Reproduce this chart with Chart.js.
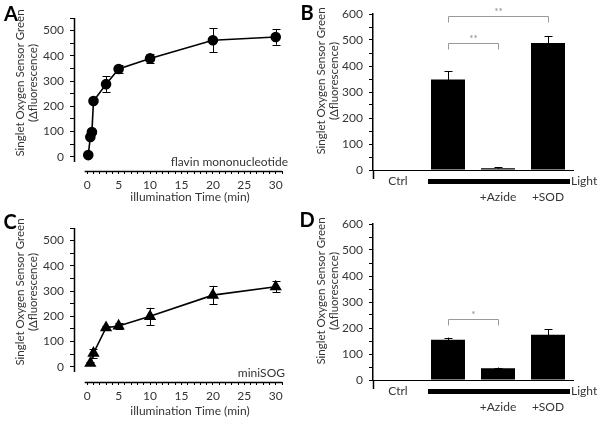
<!DOCTYPE html>
<html>
<head>
<meta charset="utf-8">
<script src="https://cdn.jsdelivr.net/npm/chart.js@4"></script>
<style>
  body { margin: 0; background: #fff; }
  #wrap { position: relative; width: 604px; height: 424px; background: #fff; }
  canvas { position: absolute; }
</style>
</head>
<body>
<div id="wrap">
  <canvas id="chartA" width="300" height="210" style="left:0;top:0"></canvas>
  <canvas id="chartB" width="304" height="210" style="left:300px;top:0"></canvas>
  <canvas id="chartC" width="300" height="214" style="left:0;top:210px"></canvas>
  <canvas id="chartD" width="304" height="214" style="left:300px;top:210px"></canvas>
</div>
<script>
// Time courses (illumination time in minutes)
const fmnTimes = [0.17, 0.5, 0.75, 1, 3, 5, 10, 20, 30];
const fmnSignal = [7, 79, 98, 221, 288, 348, 390, 462, 475];
const fmnError = [5, 8, 8, 8, 31, 17, 18, 48, 31];

const sogTimes = [0.5, 1, 3, 5, 10, 20, 30];
const sogSignal = [14, 54, 155, 162, 200, 284, 317];
const sogError = [6, 18, 8, 12, 34, 37, 22];

// Bar panels: Ctrl, Light, Light+Azide, Light+SOD
const barLabels = [['Ctrl'], [''], ['', '+Azide'], ['', '+SOD']];
const fmnBars = [0, 348, 7, 488];
const fmnBarError = [0, 32, 3, 27];
const sogBars = [0, 155, 45, 174];
const sogBarError = [0, 8, 3, 21];

// significance brackets [fromIndex, toIndex, level, stars]
const fmnBrackets = [[1, 3, 593, '**'], [1, 2, 488, '**']];
const sogBrackets = [[1, 2, 233, '*']];

// tick labels
const timeTickLabels = [0, 5, 10, 15, 20, 25, 30];
const lineYLabels = [0, 100, 200, 300, 400, 500];
const barYLabels = [0, 100, 200, 300, 400, 500, 600];

const FONT = 'Lato, "Open Sans", sans-serif';
const TXT = '#353535';
Chart.defaults.font.family = FONT;
Chart.defaults.color = TXT;

// tick marks every `step` between two values (labels come from the arrays above)
function tickMarks(from, to, step) {
  const out = [];
  for (let v = from; v <= to; v += step) out.push({value: v});
  return out;
}

// draws the error bars from a named error array
const errorBars = {
  id: 'errorBars',
  afterDatasetsDraw(chart, args, opts) {
    if (!opts.errors) return;
    const ctx = chart.ctx;
    const ys = chart.scales.y;
    const meta = chart.getDatasetMeta(0);
    const vals = chart.data.datasets[0].data;
    ctx.save();
    ctx.strokeStyle = '#000';
    ctx.lineWidth = 1;
    meta.data.forEach((el, i) => {
      const e = opts.errors[i];
      if (!e) return;
      const v = typeof vals[i] === 'object' ? vals[i].y : vals[i];
      const top = ys.getPixelForValue(v + e);
      const bot = ys.getPixelForValue(v - e);
      const x = Math.round(el.x) + 0.5;
      ctx.beginPath();
      ctx.moveTo(x, top); ctx.lineTo(x, bot);
      ctx.moveTo(x - opts.cap, Math.round(top) + 0.5); ctx.lineTo(x + opts.cap, Math.round(top) + 0.5);
      if (opts.lower) {
        ctx.moveTo(x - opts.cap, Math.round(bot) + 0.5); ctx.lineTo(x + opts.cap, Math.round(bot) + 0.5);
      }
      ctx.stroke();
    });
    ctx.restore();
  }
};

// detached axis lines for the time course panels
const splitAxes = {
  id: 'splitAxes',
  beforeDatasetsDraw(chart, args, opts) {
    if (opts.yFrom === undefined) return;
    const {x, y} = chart.scales;
    const ca = chart.chartArea;
    const ctx = chart.ctx;
    ctx.save();
    ctx.strokeStyle = '#000';
    ctx.lineWidth = 1.5;
    ctx.beginPath();
    ctx.moveTo(Math.round(ca.left) + 0.5, y.getPixelForValue(opts.yFrom));
    ctx.lineTo(Math.round(ca.left) + 0.5, y.getPixelForValue(opts.yTo));
    ctx.moveTo(x.getPixelForValue(opts.xFrom), Math.round(ca.bottom) + 0.5);
    ctx.lineTo(x.getPixelForValue(opts.xTo), Math.round(ca.bottom) + 0.5);
    ctx.stroke();
    ctx.restore();
  }
};

// light bar, y axis stub below zero and significance brackets for the bar panels
const treatmentMarks = {
  id: 'treatmentMarks',
  afterDatasetsDraw(chart, args, opts) {
    if (!opts.brackets) return;
    const {x, y} = chart.scales;
    const ca = chart.chartArea;
    const ctx = chart.ctx;
    ctx.save();
    ctx.strokeStyle = '#000';
    ctx.lineWidth = 1.5;
    ctx.beginPath();
    ctx.moveTo(Math.round(ca.left) + 0.5, ca.bottom);
    ctx.lineTo(Math.round(ca.left) + 0.5, ca.bottom + 9);
    ctx.stroke();

    ctx.strokeStyle = '#9a9a9a';
    ctx.fillStyle = '#8a8a8a';
    ctx.lineWidth = 1;
    ctx.font = '10px ' + FONT;
    ctx.textAlign = 'center';
    ctx.textBaseline = 'alphabetic';
    opts.brackets.forEach(b => {
      const x1 = Math.round(x.getPixelForValue(b[0])) + 0.5;
      const x2 = Math.round(x.getPixelForValue(b[1])) + 0.5;
      const yy = Math.round(y.getPixelForValue(b[2])) + 0.5;
      ctx.beginPath();
      ctx.moveTo(x1, yy + 6); ctx.lineTo(x1, yy); ctx.lineTo(x2, yy); ctx.lineTo(x2, yy + 6);
      ctx.stroke();
      ctx.fillText(b[3], (x1 + x2) / 2, yy - 2);
    });
    // black "Light" bar under the illuminated samples
    const step = x.getPixelForValue(1) - x.getPixelForValue(0);
    const lx = x.getPixelForValue(1) - 0.4 * step;
    const rx = ca.right - 3;
    ctx.fillStyle = '#000';
    ctx.fillRect(lx, ca.bottom + 9, rx - lx, 5);
    ctx.fillStyle = TXT;
    ctx.font = '12px ' + FONT;
    ctx.textAlign = 'left';
    ctx.textBaseline = 'middle';
    ctx.fillText('Light', rx + 1, ca.bottom + 11.5);
    ctx.restore();
  }
};

// panel letters and axis titles
const panelText = {
  id: 'panelText',
  afterDraw(chart, args, opts) {
    if (!opts.items) return;
    const ctx = chart.ctx;
    opts.items.forEach(it => {
      ctx.save();
      ctx.font = it.font || '12px ' + FONT;
      ctx.fillStyle = it.color || TXT;
      ctx.textAlign = it.align || 'center';
      ctx.textBaseline = 'middle';
      ctx.translate(it.x, it.y);
      if (it.rot) ctx.rotate(-Math.PI / 2);
      ctx.fillText(it.text, 0, 0);
      ctx.restore();
    });
  }
};

Chart.register(errorBars, splitAxes, treatmentMarks, panelText);

function yTitle(cy, dx) {
  const f = '11.5px ' + FONT;
  return [
    {text: 'Singlet Oxygen Sensor Green', x: 20 + dx, y: cy, rot: true, font: f},
    {text: '(\u0394fluorescence)', x: 33 + dx, y: cy, rot: true, font: f}
  ];
}

function lineChart(id, times, signal, errors, style, yMin, xHeight, extra) {
  const pts = times.map((t, i) => ({x: t, y: signal[i]}));
  return new Chart(document.getElementById(id), {
    type: 'line',
    data: {
      datasets: [{
        data: pts,
        borderColor: '#000',
        borderWidth: 1.6,
        backgroundColor: '#000',
        pointBackgroundColor: '#000',
        pointBorderColor: '#000',
        pointStyle: style,
        pointRadius: style === 'triangle' ? 5.5 : 4.5,
        tension: 0
      }]
    },
    options: {
      responsive: false,
      animation: false,
      events: [],
      layout: {padding: {top: 18, right: 18, left: 0, bottom: 0}},
      plugins: {
        legend: {display: false},
        tooltip: {enabled: false},
        errorBars: {errors: errors, cap: 4, lower: true},
        splitAxes: {yFrom: -20, yTo: 550, xFrom: -0.4, xTo: 31},
        panelText: {items: extra}
      },
      scales: {
        x: {
          type: 'linear',
          min: -2.1,
          max: 31,
          afterFit: s => { s.height = xHeight; },
          afterBuildTicks: s => { s.ticks = tickMarks(0, 31, 1); },
          border: {display: false},
          grid: {drawOnChartArea: false, drawTicks: true, tickLength: 3, tickColor: '#000', lineWidth: 1},
          ticks: {
            autoSkip: false,
            maxRotation: 0,
            padding: 4,
            font: {size: 12},
            callback: v => timeTickLabels.includes(v) ? String(v) : ''
          }
        },
        y: {
          min: yMin,
          max: 550,
          afterFit: s => { s.width = 74; },
          afterBuildTicks: s => { s.ticks = tickMarks(0, 550, 50); },
          border: {display: false},
          grid: {drawOnChartArea: false, drawTicks: true, tickLength: 4, tickColor: '#000', lineWidth: 1},
          ticks: {
            autoSkip: false,
            padding: 6,
            font: {size: 12},
            callback: v => lineYLabels.includes(v) ? String(v) : ''
          }
        }
      }
    }
  });
}

function barChart(id, values, errors, brackets, xHeight, extra) {
  return new Chart(document.getElementById(id), {
    type: 'bar',
    data: {
      labels: barLabels,
      datasets: [{
        data: values,
        backgroundColor: '#000',
        borderWidth: 0,
        barPercentage: 0.68,
        categoryPercentage: 1
      }]
    },
    options: {
      responsive: false,
      animation: false,
      events: [],
      layout: {padding: {top: 14, right: 31, left: 0, bottom: 0}},
      plugins: {
        legend: {display: false},
        tooltip: {enabled: false},
        errorBars: {errors: errors, cap: 4, lower: false},
        treatmentMarks: {brackets: brackets},
        panelText: {items: extra}
      },
      scales: {
        x: {
          afterFit: s => { s.height = xHeight; },
          border: {display: true, color: '#000', width: 1},
          grid: {display: false, drawTicks: false},
          ticks: {
            autoSkip: false,
            maxRotation: 0,
            padding: 3,
            font: {size: 12, lineHeight: 1.35}
          }
        },
        y: {
          min: 0,
          max: 600,
          afterFit: s => { s.width = 73; },
          afterBuildTicks: s => { s.ticks = tickMarks(0, 600, 50); },
          border: {display: true, color: '#000', width: 1.5},
          grid: {drawOnChartArea: false, drawTicks: true, tickLength: 4, tickColor: '#000', lineWidth: 1},
          ticks: {
            autoSkip: false,
            padding: 6,
            font: {size: 12},
            callback: v => barYLabels.includes(v) ? String(v) : ''
          }
        }
      }
    }
  });
}

const letterFont = 'bold 20px ' + FONT;

lineChart('chartA', fmnTimes, fmnSignal, fmnError, 'circle', -56, 39, [
  {text: 'A', x: 11, y: 15, font: letterFont, color: '#000'},
  ...yTitle(83, 0),
  {text: 'flavin mononucleotide', x: 288, y: 162, align: 'right'},
  {text: 'illumination Time (min)', x: 190, y: 197}
]);

barChart('chartB', fmnBars, fmnBarError, fmnBrackets, 40, [
  {text: 'B', x: 7, y: 14, font: letterFont, color: '#000'},
  ...yTitle(81, 1)
]);

lineChart('chartC', sogTimes, sogSignal, sogError, 'triangle', -60, 42, [
  {text: 'C', x: 10, y: 13, font: letterFont, color: '#000'},
  ...yTitle(82, 0),
  {text: 'miniSOG', x: 285, y: 163, align: 'right'},
  {text: 'illumination Time (min)', x: 190, y: 201}
]);

barChart('chartD', sogBars, sogBarError, sogBrackets, 44, [
  {text: 'D', x: 7, y: 11, font: letterFont, color: '#000'},
  ...yTitle(81, 1)
]);
</script>
</body>
</html>
